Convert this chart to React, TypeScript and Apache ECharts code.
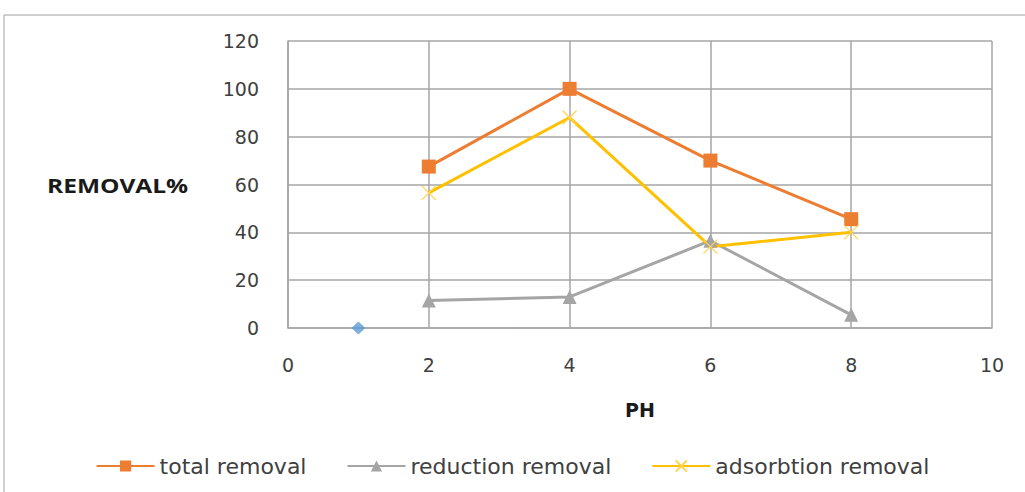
import React, { useEffect, useRef } from "react";
import * as echarts from "echarts";

// pH values and removal percentages per process
const phValues = [2, 4, 6, 8];
const totalRemoval = [67.5, 100, 70, 45.5];
const reductionRemoval = [11.5, 13, 36.5, 5.5];
const adsorptionRemoval = [56.5, 88, 34, 40];
const originPoint = [[1, 0]];

const seriesNames = ["total removal", "reduction removal", "adsorbtion removal"];

const FONT = "DejaVu Sans";
const TEXT = "#404040";
const GRID = "#A6A6A6";

const pairs = (ys: number[]) => phValues.map((x, i) => [x, ys[i]]);

export default function App() {
  const ref = useRef<HTMLDivElement>(null);

  useEffect(() => {
    document.body.style.margin = "0";
    const chart = echarts.init(ref.current!, undefined, { renderer: "svg" });
    chart.setOption({
      animation: false,
      backgroundColor: "#ffffff",
      grid: { left: 288, right: 33, top: 41, bottom: 164 },
      graphic: [
        {
          type: "rect",
          shape: { x: 4, y: 15, width: 1040, height: 500 },
          style: { fill: "none", stroke: "#A0A0A0", lineWidth: 1 },
          silent: true,
        },
        {
          type: "text",
          x: 47,
          y: 186,
          scaleX: 1.29,
          style: {
            text: "REMOVAL%",
            font: 'bold 19px "Open Sans"',
            fill: "#1a1a1a",
            verticalAlign: "middle",
          },
        },
      ],
      legend: {
        data: seriesNames,
        bottom: 10,
        left: "center",
        itemGap: 40,
        itemWidth: 58,
        itemHeight: 14,
        textStyle: { fontFamily: FONT, fontSize: 22, color: TEXT },
      },
      xAxis: {
        type: "value",
        min: 0,
        max: 10,
        interval: 2,
        name: "PH",
        nameLocation: "middle",
        nameGap: 72,
        nameTextStyle: { fontFamily: FONT, fontSize: 19, fontWeight: "bold", color: "#1a1a1a" },
        axisLine: { show: true, lineStyle: { color: GRID, width: 1.5 } },
        axisTick: { show: false },
        axisLabel: { fontFamily: FONT, fontSize: 19, color: TEXT, margin: 27 },
        splitLine: { show: true, lineStyle: { color: GRID, width: 1.5 } },
      },
      yAxis: {
        type: "value",
        min: 0,
        max: 120,
        interval: 20,
        axisLine: { show: true, lineStyle: { color: GRID, width: 1.5 } },
        axisTick: { show: false },
        axisLabel: { fontFamily: FONT, fontSize: 19, color: TEXT, margin: 29 },
        splitLine: { show: true, lineStyle: { color: GRID, width: 1.5 } },
      },
      series: [
        {
          name: "origin",
          type: "scatter",
          data: originPoint,
          symbol: "diamond",
          symbolSize: [14, 13],
          itemStyle: { color: "#5B9BD5" },
        },
        {
          name: seriesNames[0],
          type: "line",
          data: pairs(totalRemoval),
          symbol: "rect",
          symbolSize: 14,
          lineStyle: { color: "#ED7D31", width: 3 },
          itemStyle: { color: "#ED7D31" },
        },
        {
          name: seriesNames[1],
          type: "line",
          data: pairs(reductionRemoval),
          symbol: "triangle",
          symbolSize: 14,
          lineStyle: { color: "#A5A5A5", width: 3 },
          itemStyle: { color: "#A5A5A5" },
        },
        {
          name: seriesNames[2],
          type: "line",
          data: pairs(adsorptionRemoval),
          symbol: "path://M0,0L10,10M10,0L0,10",
          symbolSize: 14,
          lineStyle: { color: "#FFC000", width: 3 },
          itemStyle: { color: "none", borderColor: "#FFD34D", borderWidth: 1.2 },
        },
      ],
    });
    return () => chart.dispose();
  }, []);

  return <div ref={ref} style={{ width: 1025, height: 492 }} />;
}
